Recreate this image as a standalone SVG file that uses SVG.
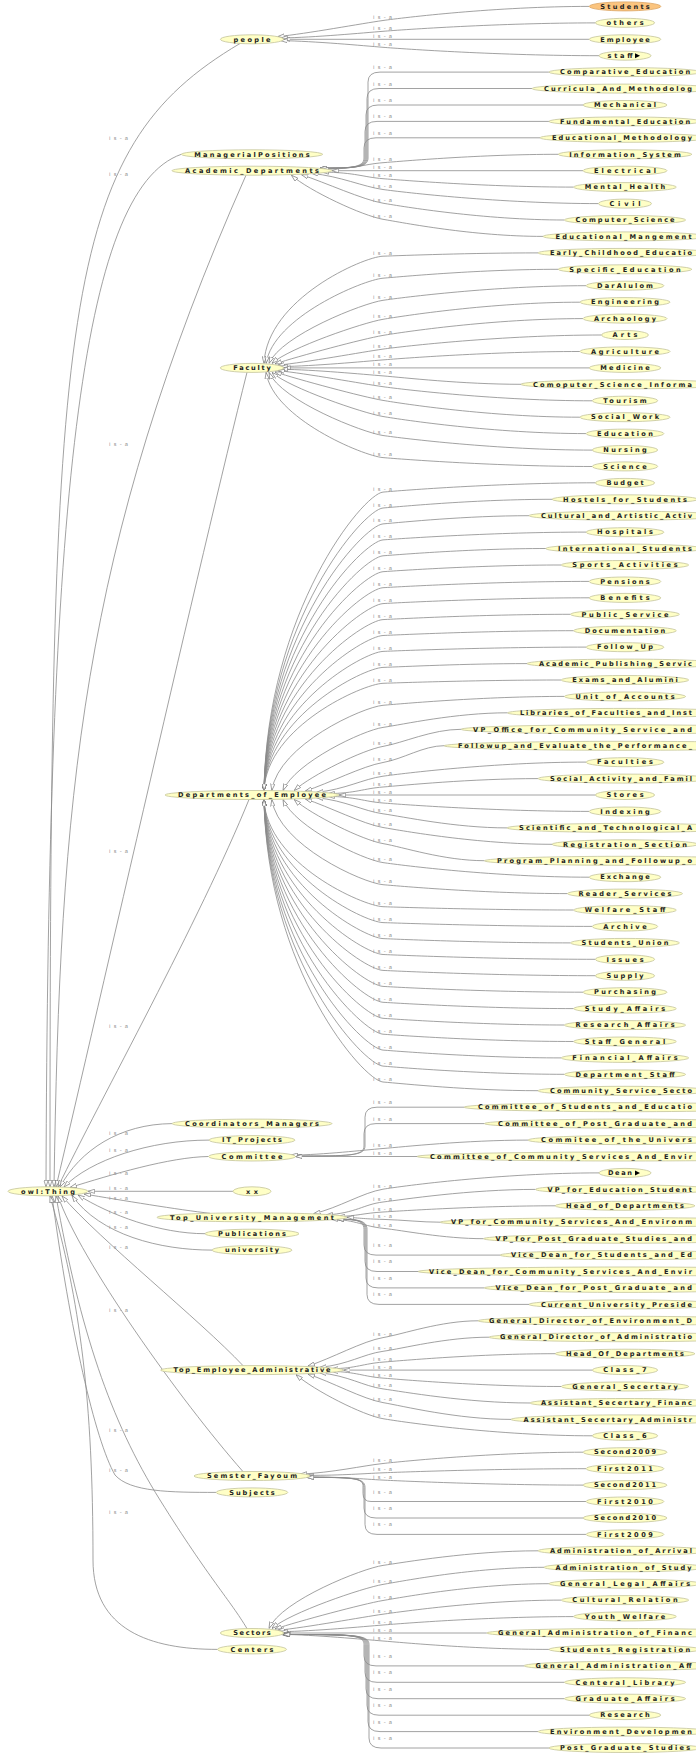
<svg xmlns="http://www.w3.org/2000/svg" width="696" height="1754" viewBox="0 0 696 1754">
<style>
.n ellipse{fill:#ffffc6;stroke:#c4c49c;stroke-width:0.8}
.n text{font-family:"DejaVu Sans",sans-serif;font-size:6.6px;font-weight:bold;fill:#222;text-anchor:middle}
.n text.s{text-anchor:start}
#n-Students ellipse{fill:#fbc47e;stroke:#dca462}
.e path{fill:none;stroke:#8a8a8a;stroke-width:0.8;marker-start:url(#ah)}
.e text{font-family:"DejaVu Sans",sans-serif;font-size:5.3px;fill:#8e8e8e}
</style>
<defs>
<marker id="ah" viewBox="0 0 8 6" refX="8" refY="3" markerWidth="7" markerHeight="5" markerUnits="userSpaceOnUse" orient="auto-start-reverse"><path d="M0,0.5 L8,3 L0,5.5 Z" fill="#fff" stroke="#777" stroke-width="0.8"/></marker>
</defs>
<rect width="696" height="1754" fill="#fff"/>
<g id="connectors" class="e">
<g id="e-root">
<path d="M50,1187 C50,300 60,150 240,43.5"/>
<path d="M46,1187 C48,500 80,190 181.3,154.3"/>
<path d="M54,1187 C60,800 80,550 246,175.2"/>
<path d="M56,1187 C100,1000 200,560 247,372.3"/>
<path d="M58,1187 C100,1100 200,920 249,799.5"/>
<path d="M60,1187 C80,1150 120,1124 172,1123.6"/>
<path d="M64,1187 C90,1160 150,1140 209,1140.1"/>
<path d="M70,1187.5 C110,1175 170,1157 208.5,1156.5"/>
<path d="M88,1191.3 L233,1191.3"/>
<path d="M84,1194 C120,1200 180,1210 210,1213.3"/>
<path d="M78,1195 C110,1215 160,1233.7 205,1233.7"/>
<path d="M72,1195.5 C100,1235 160,1250.1 212,1250.1"/>
<path d="M62,1196 C100,1240 200,1320 243,1365.6"/>
<path d="M58,1196 C80,1260 180,1400 243,1471.6"/>
<path d="M52,1196 C70,1330 95,1440 115,1475 C130,1492 170,1492.4 216.2,1492.4"/>
<path d="M56,1196 C80,1330 110,1420 160,1500 S230,1600 247,1628.6"/>
<path d="M50,1196 C80,1300 93,1400 93,1560 C93,1630 150,1649.4 217.5,1649.4"/>
<g>
<text x="109" y="140" textLength="19">is-a</text>
<text x="109" y="176" textLength="19">is-a</text>
<text x="109" y="446" textLength="19">is-a</text>
<text x="109" y="853" textLength="19">is-a</text>
<text x="109" y="1028" textLength="19">is-a</text>
<text x="109" y="1135" textLength="19">is-a</text>
<text x="109" y="1152" textLength="19">is-a</text>
<text x="109" y="1175" textLength="19">is-a</text>
<text x="109" y="1190" textLength="19">is-a</text>
<text x="109" y="1199.5" textLength="19">is-a</text>
<text x="109" y="1214" textLength="19">is-a</text>
<text x="109" y="1229" textLength="19">is-a</text>
<text x="109" y="1249" textLength="19">is-a</text>
<text x="109" y="1312" textLength="19">is-a</text>
<text x="109" y="1472" textLength="19">is-a</text>
<text x="109" y="1432" textLength="19">is-a</text>
<text x="109" y="1514" textLength="19">is-a</text>
</g>
</g>
<g id="e-people" transform="translate(252,39.3)">
<path d="M25.7,-2.7 C54.6,-5.6 111,-16 131,-18.8 S244.1,-32.9 337.2,-32.9"/>
<path d="M28.7,-1.3 C63.2,-1.9 111,-6.4 131,-8 S247.2,-16.4 343.4,-16.4"/>
<path d="M31.6,0 L337.2,0"/>
<path d="M28.7,1.3 C63.2,1.9 111,6.4 131,8 S249,16.4 347,16.4"/>
<text x="121" y="-20.3" textLength="19">is-a</text>
<text x="121" y="-9.5" textLength="19">is-a</text>
<text x="121" y="-1.5" textLength="19">is-a</text>
<text x="121" y="6.5" textLength="19">is-a</text>
</g>
<g id="e-academic" transform="translate(252,170.7)">
<path d="M68,-2.6 C101,-2.6 116,-2.6 116,-12.6 L116,-88.6 Q116,-98.6 128,-98.6 L296.9,-98.6"/>
<path d="M68,-2.6 C100,-2.6 115,-2.6 115,-12.6 L115,-72.2 Q115,-82.2 127,-82.2 L280,-82.2"/>
<path d="M68,-2.6 C99,-2.6 114,-2.6 114,-12.6 L114,-55.7 Q114,-65.7 126,-65.7 L331,-65.7"/>
<path d="M68,-2.6 C98,-2.6 113,-2.6 113,-12.6 L113,-39.3 Q113,-49.3 125,-49.3 L296.9,-49.3"/>
<path d="M68,-2.6 C97,-2.6 112,-2.6 112,-12.6 L112,-22.9 Q112,-32.9 124,-32.9 L288,-32.9"/>
<path d="M69.9,-1.3 C104.4,-1.9 111,-6.4 131,-8 S228.6,-16.4 306.2,-16.4"/>
<path d="M80,0 L331,0"/>
<path d="M69.9,1.3 C104.4,1.9 111,6.4 131,8 S236.4,16.4 321.7,16.4"/>
<path d="M59.7,2.7 C88.6,5.6 111,16 131,18.8 S248.8,32.9 346.5,32.9"/>
<path d="M49.5,4 C72.9,11.7 111,29.1 131,32.5 S231.7,49.3 312.4,49.3"/>
<path d="M39.4,4.5 C57.3,20.3 111,45.2 131,48.6 S221,65.7 291,65.7"/>
<text x="121" y="-101.6" textLength="19">is-a</text>
<text x="121" y="-85.2" textLength="19">is-a</text>
<text x="121" y="-68.7" textLength="19">is-a</text>
<text x="121" y="-52.3" textLength="19">is-a</text>
<text x="121" y="-35.9" textLength="19">is-a</text>
<text x="121" y="-9.5" textLength="19">is-a</text>
<text x="121" y="-1.5" textLength="19">is-a</text>
<text x="121" y="6.5" textLength="19">is-a</text>
<text x="121" y="17.3" textLength="19">is-a</text>
<text x="121" y="31" textLength="19">is-a</text>
<text x="121" y="47.1" textLength="19">is-a</text>
</g>
<g id="e-faculty" transform="translate(252,367.9)">
<path d="M12,-4.5 C15,-68.8 111,-111 131,-111.7 S218.5,-115 286,-115"/>
<path d="M14.1,-4.5 C21,-50.4 111,-88 131,-89.7 S228.6,-98.6 306.2,-98.6"/>
<path d="M17,-4.5 C29.4,-32.8 111,-64.7 131,-67.6 S242.6,-82.2 334.1,-82.2"/>
<path d="M19.9,-4.5 C37.8,-20.3 111,-45.2 131,-48.6 S239.5,-65.7 327.9,-65.7"/>
<path d="M22.9,-4 C46.3,-11.7 111,-29.1 131,-32.5 S241,-49.3 331,-49.3"/>
<path d="M25.8,-2.7 C54.7,-5.6 111,-16 131,-18.8 S250.3,-32.9 349.6,-32.9"/>
<path d="M28.8,-1.3 C63.3,-1.9 111,-6.4 131,-8 S239.5,-16.4 327.9,-16.4"/>
<path d="M31.7,0 L337.2,0"/>
<path d="M28.8,1.3 C63.3,1.9 111,6.4 131,8 S210,16.4 269,16.4"/>
<path d="M25.8,2.7 C54.7,5.6 111,16 131,18.8 S245.7,32.9 340.3,32.9"/>
<path d="M22.9,4 C46.3,11.7 111,29.1 131,32.5 S239.5,49.3 327.9,49.3"/>
<path d="M19.9,4.5 C37.8,20.3 111,45.2 131,48.6 S242.6,65.7 334.1,65.7"/>
<path d="M17,4.5 C29.4,32.8 111,64.7 131,67.6 S245.7,82.2 340.3,82.2"/>
<path d="M14.1,4.5 C21,50.4 111,88 131,89.7 S245.7,98.6 340.3,98.6"/>
<text x="121" y="-113.2" textLength="19">is-a</text>
<text x="121" y="-91.2" textLength="19">is-a</text>
<text x="121" y="-69.1" textLength="19">is-a</text>
<text x="121" y="-50.1" textLength="19">is-a</text>
<text x="121" y="-34" textLength="19">is-a</text>
<text x="121" y="-20.3" textLength="19">is-a</text>
<text x="121" y="-9.5" textLength="19">is-a</text>
<text x="121" y="-1.5" textLength="19">is-a</text>
<text x="121" y="6.5" textLength="19">is-a</text>
<text x="121" y="17.3" textLength="19">is-a</text>
<text x="121" y="31" textLength="19">is-a</text>
<text x="121" y="47.1" textLength="19">is-a</text>
<text x="121" y="66.1" textLength="19">is-a</text>
<text x="121" y="88.2" textLength="19">is-a</text>
</g>
<g id="e-deptemp" transform="translate(252,795)">
<path d="M12,-4.5 C15,-183.6 111,-301.1 131,-302.9 S247.2,-312.2 343.4,-312.2"/>
<path d="M12,-4.5 C15,-174 111,-285.3 131,-287 S225.5,-295.7 300,-295.7"/>
<path d="M12,-4.5 C15,-164.4 111,-269.4 131,-271.1 S214,-279.3 277,-279.3"/>
<path d="M12,-4.5 C15,-154.9 111,-253.6 131,-255.1 S242.6,-262.9 334.1,-262.9"/>
<path d="M12,-4.5 C15,-145.3 111,-237.7 131,-239.2 S222.4,-246.5 293.8,-246.5"/>
<path d="M12,-4.5 C15,-135.8 111,-221.9 131,-223.3 S230.2,-230 309.3,-230"/>
<path d="M12,-4.5 C15,-126.2 111,-206.1 131,-207.3 S244.1,-213.6 337.2,-213.6"/>
<path d="M12,-4.5 C15,-116.6 111,-190.2 131,-191.4 S244.1,-197.2 337.2,-197.2"/>
<path d="M12,-4.5 C15,-107.1 111,-174.4 131,-175.4 S234.8,-180.7 318.6,-180.7"/>
<path d="M12,-4.5 C15,-97.5 111,-158.6 131,-159.5 S236.4,-164.3 321.7,-164.3"/>
<path d="M12,-4.5 C15,-87.9 111,-142.7 131,-143.6 S242.6,-147.9 334.1,-147.9"/>
<path d="M12,-4.5 C15,-78.4 111,-126.9 131,-127.6 S213,-131.4 275,-131.4"/>
<path d="M12,-4.5 C15,-68.8 111,-111 131,-111.7 S230.2,-115 309.3,-115"/>
<path d="M19.8,-4.5 C26.7,-50.4 111,-88 131,-89.7 S231.7,-98.6 312.4,-98.6"/>
<path d="M31,-4.5 C43.4,-32.8 111,-64.7 131,-67.6 S203.3,-82.2 255.6,-82.2"/>
<path d="M42.2,-4.5 C60.1,-20.3 111,-45.2 131,-48.6 S180,-65.7 209,-65.7"/>
<path d="M53.4,-4 C76.8,-11.7 111,-29.1 131,-32.5 S171.5,-49.3 192,-49.3"/>
<path d="M64.6,-2.7 C93.5,-5.6 111,-16 131,-18.8 S242.6,-32.9 334.1,-32.9"/>
<path d="M75.8,-1.3 C105,-1.9 111,-6.4 131,-8 S218.5,-16.4 286,-16.4"/>
<path d="M87,0 L343.4,0"/>
<path d="M75.8,1.3 C105,1.9 111,6.4 131,8 S244.1,16.4 337.2,16.4"/>
<path d="M64.6,2.7 C93.5,5.6 111,16 131,18.8 S203,32.9 255,32.9"/>
<path d="M53.4,4 C76.8,11.7 111,29.1 131,32.5 S225.5,49.3 300,49.3"/>
<path d="M42.2,4.5 C60.1,20.3 111,45.2 131,48.6 S191.7,65.7 232.4,65.7"/>
<path d="M31,4.5 C43.4,32.8 111,64.7 131,67.6 S244.1,82.2 337.2,82.2"/>
<path d="M19.8,4.5 C26.7,50.4 111,88 131,89.7 S233.3,98.6 315.5,98.6"/>
<path d="M12,4.5 C15,68.8 111,111 131,111.7 S236.4,115 321.7,115"/>
<path d="M12,4.5 C15,78.4 111,126.9 131,127.6 S245.7,131.4 340.3,131.4"/>
<path d="M12,4.5 C15,87.9 111,142.7 131,143.6 S234.8,147.9 318.6,147.9"/>
<path d="M12,4.5 C15,97.5 111,158.6 131,159.5 S247.2,164.3 343.4,164.3"/>
<path d="M12,4.5 C15,107.1 111,174.4 131,175.4 S247.2,180.7 343.4,180.7"/>
<path d="M12,4.5 C15,116.6 111,190.2 131,191.4 S241,197.2 331,197.2"/>
<path d="M12,4.5 C15,126.2 111,206.1 131,207.3 S236.4,213.6 321.7,213.6"/>
<path d="M12,4.5 C15,135.8 111,221.9 131,223.3 S231.7,230 312.4,230"/>
<path d="M12,4.5 C15,145.3 111,237.7 131,239.2 S236.4,246.5 321.7,246.5"/>
<path d="M12,4.5 C15,154.9 111,253.6 131,255.1 S230.2,262.9 309.3,262.9"/>
<path d="M12,4.5 C15,164.4 111,269.4 131,271.1 S231.7,279.3 312.4,279.3"/>
<path d="M12,4.5 C15,174 111,285.3 131,287 S218.5,295.7 286,295.7"/>
<text x="121" y="-304.4" textLength="19">is-a</text>
<text x="121" y="-288.5" textLength="19">is-a</text>
<text x="121" y="-272.6" textLength="19">is-a</text>
<text x="121" y="-256.6" textLength="19">is-a</text>
<text x="121" y="-240.7" textLength="19">is-a</text>
<text x="121" y="-224.8" textLength="19">is-a</text>
<text x="121" y="-208.8" textLength="19">is-a</text>
<text x="121" y="-192.9" textLength="19">is-a</text>
<text x="121" y="-176.9" textLength="19">is-a</text>
<text x="121" y="-161" textLength="19">is-a</text>
<text x="121" y="-145.1" textLength="19">is-a</text>
<text x="121" y="-129.1" textLength="19">is-a</text>
<text x="121" y="-113.2" textLength="19">is-a</text>
<text x="121" y="-91.2" textLength="19">is-a</text>
<text x="121" y="-69.1" textLength="19">is-a</text>
<text x="121" y="-50.1" textLength="19">is-a</text>
<text x="121" y="-34" textLength="19">is-a</text>
<text x="121" y="-20.3" textLength="19">is-a</text>
<text x="121" y="-9.5" textLength="19">is-a</text>
<text x="121" y="-1.5" textLength="19">is-a</text>
<text x="121" y="6.5" textLength="19">is-a</text>
<text x="121" y="17.3" textLength="19">is-a</text>
<text x="121" y="31" textLength="19">is-a</text>
<text x="121" y="47.1" textLength="19">is-a</text>
<text x="121" y="66.1" textLength="19">is-a</text>
<text x="121" y="88.2" textLength="19">is-a</text>
<text x="121" y="110.2" textLength="19">is-a</text>
<text x="121" y="126.1" textLength="19">is-a</text>
<text x="121" y="142.1" textLength="19">is-a</text>
<text x="121" y="158" textLength="19">is-a</text>
<text x="121" y="173.9" textLength="19">is-a</text>
<text x="121" y="189.9" textLength="19">is-a</text>
<text x="121" y="205.8" textLength="19">is-a</text>
<text x="121" y="221.8" textLength="19">is-a</text>
<text x="121" y="237.7" textLength="19">is-a</text>
<text x="121" y="253.6" textLength="19">is-a</text>
<text x="121" y="269.6" textLength="19">is-a</text>
<text x="121" y="285.5" textLength="19">is-a</text>
</g>
<g id="e-committee" transform="translate(252,1156.5)">
<path d="M43.5,-0.5 C98,-0.5 113,-0.5 113,-10.5 L113,-39.3 Q113,-49.3 125,-49.3 L212,-49.3"/>
<path d="M43.5,-0.5 C97,-0.5 112,-0.5 112,-10.5 L112,-22.9 Q112,-32.9 124,-32.9 L232.4,-32.9"/>
<path d="M38.8,-1.3 C73.3,-1.9 111,-6.4 131,-8 S213.5,-16.4 276,-16.4"/>
<path d="M43.5,0 L165,0"/>
<text x="121" y="-52.3" textLength="19">is-a</text>
<text x="121" y="-35.9" textLength="19">is-a</text>
<text x="121" y="-9.5" textLength="19">is-a</text>
<text x="121" y="-1.5" textLength="19">is-a</text>
</g>
<g id="e-topuni" transform="translate(252,1217.3)">
<path d="M61.6,-3.6 C86.7,-9.5 111,-24.8 131,-28.1 S249,-44.4 347,-44.4"/>
<path d="M73.9,-2.3 C104.5,-4.3 111,-12.8 131,-15.3 S217.3,-27.9 283.6,-27.9"/>
<path d="M86.3,-0.9 C105,-1.2 111,-4.1 131,-5.3 S227,-11.5 303.1,-11.5"/>
<path d="M95,0 C105,0.4 111,1.6 131,2.1 S169.5,4.9 188,4.9"/>
<path d="M78.9,1.8 C105,2.8 111,8.9 131,11 S191.3,21.4 231.6,21.4"/>
<path d="M85,2 C100,2 112,2 112,12 L112,27.8 Q112,37.8 124,37.8 L248,37.8"/>
<path d="M85,2 C101,2 113,2 113,12 L113,44.2 Q113,54.2 125,54.2 L166,54.2"/>
<path d="M85,2 C102,2 114,2 114,12 L114,60.6 Q114,70.6 126,70.6 L232.4,70.6"/>
<path d="M85,2 C103,2 115,2 115,12 L115,77.1 Q115,87.1 127,87.1 L277,87.1"/>
<text x="121" y="-29.6" textLength="19">is-a</text>
<text x="121" y="-16.8" textLength="19">is-a</text>
<text x="121" y="-6.8" textLength="19">is-a</text>
<text x="121" y="0.6" textLength="19">is-a</text>
<text x="121" y="9.5" textLength="19">is-a</text>
<text x="121" y="29.8" textLength="19">is-a</text>
<text x="121" y="46.2" textLength="19">is-a</text>
<text x="121" y="62.6" textLength="19">is-a</text>
<text x="121" y="79.1" textLength="19">is-a</text>
</g>
<g id="e-topemp" transform="translate(252,1370.1)">
<path d="M55.9,-4 C79.3,-11.7 111,-29.1 131,-32.5 S188.5,-49.3 226,-49.3"/>
<path d="M67.7,-2.7 C96.6,-5.6 111,-16 131,-18.8 S194,-32.9 237,-32.9"/>
<path d="M79.7,-1.3 C105,-1.9 111,-6.4 131,-8 S227,-16.4 303.1,-16.4"/>
<path d="M91.5,0 L340.3,0"/>
<path d="M79.7,1.3 C105,1.9 111,6.4 131,8 S230.2,16.4 309.3,16.4"/>
<path d="M67.7,2.7 C96.6,5.6 111,16 131,18.8 S214.5,32.9 278,32.9"/>
<path d="M55.9,4 C79.3,11.7 111,29.1 131,32.5 S205,49.3 259,49.3"/>
<path d="M44,4.5 C61.9,20.3 111,45.2 131,48.6 S245.7,65.7 340.3,65.7"/>
<text x="121" y="-34" textLength="19">is-a</text>
<text x="121" y="-20.3" textLength="19">is-a</text>
<text x="121" y="-9.5" textLength="19">is-a</text>
<text x="121" y="-1.5" textLength="19">is-a</text>
<text x="121" y="6.5" textLength="19">is-a</text>
<text x="121" y="17.3" textLength="19">is-a</text>
<text x="121" y="31" textLength="19">is-a</text>
<text x="121" y="47.1" textLength="19">is-a</text>
</g>
<g id="e-semster" transform="translate(252,1476)">
<path d="M48.1,-1.9 C80.1,-3.3 111,-10.3 131,-12.5 S241,-23.8 331,-23.8"/>
<path d="M54.9,-0.6 C92.4,-0.7 111,-2.4 131,-3.2 S242.6,-7.3 334.1,-7.3"/>
<path d="M54.2,0.8 C91.1,0.9 111,3.1 131,4.1 S241,9.1 331,9.1"/>
<path d="M55,1.4 C98,1.4 111,1.4 111,9.4 L111,17.5 Q111,25.5 119,25.5 L334.1,25.5"/>
<path d="M55,1.4 C99,1.4 112,1.4 112,11.4 L112,32 Q112,42 124,42 L331,42"/>
<path d="M55,1.4 C100,1.4 113,1.4 113,11.4 L113,48.4 Q113,58.4 125,58.4 L334.1,58.4"/>
<text x="121" y="-14" textLength="19">is-a</text>
<text x="121" y="-4.7" textLength="19">is-a</text>
<text x="121" y="2.6" textLength="19">is-a</text>
<text x="121" y="17.5" textLength="19">is-a</text>
<text x="121" y="34" textLength="19">is-a</text>
<text x="121" y="50.4" textLength="19">is-a</text>
</g>
<g id="e-sectors" transform="translate(252,1633)">
<path d="M17,-4.5 C29.4,-32.8 111,-64.7 131,-67.6 S218.5,-82.2 286,-82.2"/>
<path d="M19.9,-4.5 C37.8,-20.3 111,-45.2 131,-48.6 S221.5,-65.7 292,-65.7"/>
<path d="M22.9,-4 C46.3,-11.7 111,-29.1 131,-32.5 S224,-49.3 296.9,-49.3"/>
<path d="M25.8,-2.7 C54.7,-5.6 111,-16 131,-18.8 S230.2,-32.9 309.3,-32.9"/>
<path d="M28.8,-1.3 C63.3,-1.9 111,-6.4 131,-8 S236.4,-16.4 321.7,-16.4"/>
<path d="M31.7,0 L234.7,0"/>
<path d="M28.8,1.3 C63.3,1.9 111,6.4 131,8 S224,16.4 296.9,16.4"/>
<path d="M31,1.5 C97,1.5 112,1.5 112,11.5 L112,22.9 Q112,32.9 124,32.9 L272,32.9"/>
<path d="M31,1.5 C98,1.5 113,1.5 113,11.5 L113,39.3 Q113,49.3 125,49.3 L312.4,49.3"/>
<path d="M31,1.5 C99,1.5 114,1.5 114,11.5 L114,55.7 Q114,65.7 126,65.7 L312.4,65.7"/>
<path d="M31,1.5 C100,1.5 115,1.5 115,11.5 L115,72.2 Q115,82.2 127,82.2 L337.2,82.2"/>
<path d="M31,1.5 C101,1.5 116,1.5 116,11.5 L116,88.6 Q116,98.6 128,98.6 L286,98.6"/>
<path d="M31,1.5 C102,1.5 117,1.5 117,11.5 L117,105 Q117,115 129,115 L296.9,115"/>
<text x="121" y="-69.1" textLength="19">is-a</text>
<text x="121" y="-50.1" textLength="19">is-a</text>
<text x="121" y="-34" textLength="19">is-a</text>
<text x="121" y="-20.3" textLength="19">is-a</text>
<text x="121" y="-9.5" textLength="19">is-a</text>
<text x="121" y="-1.5" textLength="19">is-a</text>
<text x="121" y="6.5" textLength="19">is-a</text>
<text x="121" y="24.9" textLength="19">is-a</text>
<text x="121" y="41.3" textLength="19">is-a</text>
<text x="121" y="57.7" textLength="19">is-a</text>
<text x="121" y="74.2" textLength="19">is-a</text>
<text x="121" y="90.6" textLength="19">is-a</text>
<text x="121" y="107" textLength="19">is-a</text>
</g>
</g>
<g id="nodes">
<g id="n-owlThing" class="n" transform="translate(48,1191.3)"><ellipse rx="40" ry="4.5"/><text y="2.2" textLength="54">owl:Thing</text></g>
<g id="n-people" class="n" transform="translate(252,39.3)"><ellipse rx="31.6" ry="4.5"/><text y="2.2" textLength="37.2">people</text></g>
<g id="n-ManagerialPositions" class="n" transform="translate(252,154.3)"><ellipse rx="70.7" ry="4.5"/><text y="2.2" textLength="115.4">ManagerialPositions</text></g>
<g id="n-Academic_Departments" class="n" transform="translate(252,170.7)"><ellipse rx="80" ry="4.5"/><text y="2.2" textLength="134">Academic_Departments</text></g>
<g id="n-Faculty" class="n" transform="translate(252,367.9)"><ellipse rx="31.7" ry="4.5"/><text y="2.2" textLength="37.4">Faculty</text></g>
<g id="n-Departments_of_Employee" class="n" transform="translate(252,795)"><ellipse rx="87" ry="4.5"/><text y="2.2" textLength="148">Departments_of_Employee</text></g>
<g id="n-Coordinators_Managers" class="n" transform="translate(252,1123.6)"><ellipse rx="80" ry="4.5"/><text y="2.2" textLength="134">Coordinators_Managers</text></g>
<g id="n-IT_Projects" class="n" transform="translate(252,1140.1)"><ellipse rx="43" ry="4.5"/><text y="2.2" textLength="60">IT_Projects</text></g>
<g id="n-Committee" class="n" transform="translate(252,1156.5)"><ellipse rx="43.5" ry="4.5"/><text y="2.2" textLength="61">Committee</text></g>
<g id="n-xx" class="n" transform="translate(252,1191.3)"><ellipse rx="19" ry="4.5"/><text y="2.2" textLength="12">xx</text></g>
<g id="n-Top_University_Management" class="n" transform="translate(252,1217.3)"><ellipse rx="95" ry="4.5"/><text y="2.2" textLength="164">Top_University_Management</text></g>
<g id="n-Publications" class="n" transform="translate(252,1233.7)"><ellipse rx="47" ry="4.5"/><text y="2.2" textLength="68">Publications</text></g>
<g id="n-university" class="n" transform="translate(252,1250.1)"><ellipse rx="40" ry="4.5"/><text y="2.2" textLength="54">university</text></g>
<g id="n-Top_Employee_Administrative" class="n" transform="translate(252,1370.1)"><ellipse rx="91.5" ry="4.5"/><text y="2.2" textLength="157">Top_Employee_Administrative</text></g>
<g id="n-Semster_Fayoum" class="n" transform="translate(252,1476)"><ellipse rx="58" ry="4.5"/><text y="2.2" textLength="90">Semster_Fayoum</text></g>
<g id="n-Subjects" class="n" transform="translate(252,1492.4)"><ellipse rx="35.8" ry="4.5"/><text y="2.2" textLength="45.6">Subjects</text></g>
<g id="n-Sectors" class="n" transform="translate(252,1633)"><ellipse rx="31.7" ry="4.5"/><text y="2.2" textLength="37.4">Sectors</text></g>
<g id="n-Centers" class="n" transform="translate(252,1649.4)"><ellipse rx="34.5" ry="4.5"/><text y="2.2" textLength="43">Centers</text></g>

<g id="n-Students" class="n" transform="translate(625,6.4)"><ellipse rx="35.8" ry="4.5"/><text y="2.2" textLength="49.6">Students</text></g>
<g id="n-others" class="n" transform="translate(625,22.8)"><ellipse rx="29.6" ry="4.5"/><text y="2.2" textLength="37.2">others</text></g>
<g id="n-Employee" class="n" transform="translate(625,39.3)"><ellipse rx="35.8" ry="4.5"/><text y="2.2" textLength="49.6">Employee</text></g>
<g id="n-staff" class="n" transform="translate(625,55.7)"><ellipse rx="26" ry="4.5"/><text x="-5" y="2.2" textLength="25">staff</text><polygon points="10,-2.5 15,0 10,2.5" fill="#000"/></g>
<g id="n-Comparative_Education" class="n" transform="translate(625,72.1)"><ellipse rx="76.1" ry="4.5"/><text y="2.2" textLength="130.2">Comparative_Education</text></g>
<g id="n-Curricula_And_Methodology" class="n" transform="translate(625,88.6)"><ellipse rx="93" ry="4.5"/><text class="s" x="-81" y="2.2" textLength="148">Curricula_And_Methodolog</text></g>
<g id="n-Mechanical" class="n" transform="translate(625,105)"><ellipse rx="42" ry="4.5"/><text y="2.2" textLength="62">Mechanical</text></g>
<g id="n-Fundamental_Education" class="n" transform="translate(625,121.4)"><ellipse rx="76.1" ry="4.5"/><text y="2.2" textLength="130.2">Fundamental_Education</text></g>
<g id="n-Educational_Methodology" class="n" transform="translate(625,137.8)"><ellipse rx="85" ry="4.5"/><text class="s" x="-73" y="2.2" textLength="140">Educational_Methodology</text></g>
<g id="n-Information_System" class="n" transform="translate(625,154.3)"><ellipse rx="66.8" ry="4.5"/><text y="2.2" textLength="111.6">Information_System</text></g>
<g id="n-Electrical" class="n" transform="translate(625,170.7)"><ellipse rx="42" ry="4.5"/><text y="2.2" textLength="62">Electrical</text></g>
<g id="n-Mental_Health" class="n" transform="translate(625,187.1)"><ellipse rx="51.3" ry="4.5"/><text y="2.2" textLength="80.6">Mental_Health</text></g>
<g id="n-Civil" class="n" transform="translate(625,203.6)"><ellipse rx="26.5" ry="4.5"/><text y="2.2" textLength="31">Civil</text></g>
<g id="n-Computer_Science" class="n" transform="translate(625,220)"><ellipse rx="60.6" ry="4.5"/><text y="2.2" textLength="99.2">Computer_Science</text></g>
<g id="n-Educational_Mangement" class="n" transform="translate(625,236.4)"><ellipse rx="82" ry="4.5"/><text class="s" x="-69.4" y="2.2" textLength="136">Educational_Mangement</text></g>
<g id="n-Early_Childhood_Education" class="n" transform="translate(625,252.9)"><ellipse rx="87" ry="4.5"/><text class="s" x="-75" y="2.2" textLength="142">Early_Childhood_Educatio</text></g>
<g id="n-Specific_Education" class="n" transform="translate(625,269.3)"><ellipse rx="66.8" ry="4.5"/><text y="2.2" textLength="111.6">Specific_Education</text></g>
<g id="n-DarAlulom" class="n" transform="translate(625,285.7)"><ellipse rx="38.9" ry="4.5"/><text y="2.2" textLength="55.8">DarAlulom</text></g>
<g id="n-Engineering" class="n" transform="translate(625,302.1)"><ellipse rx="45.1" ry="4.5"/><text y="2.2" textLength="68.2">Engineering</text></g>
<g id="n-Archaology" class="n" transform="translate(625,318.6)"><ellipse rx="42" ry="4.5"/><text y="2.2" textLength="62">Archaology</text></g>
<g id="n-Arts" class="n" transform="translate(625,335)"><ellipse rx="23.4" ry="4.5"/><text y="2.2" textLength="24.8">Arts</text></g>
<g id="n-Agriculture" class="n" transform="translate(625,351.4)"><ellipse rx="45.1" ry="4.5"/><text y="2.2" textLength="68.2">Agriculture</text></g>
<g id="n-Medicine" class="n" transform="translate(625,367.9)"><ellipse rx="35.8" ry="4.5"/><text y="2.2" textLength="49.6">Medicine</text></g>
<g id="n-Comoputer_Science_Information" class="n" transform="translate(625,384.3)"><ellipse rx="104" ry="4.5"/><text class="s" x="-92" y="2.2" textLength="159">Comoputer_Science_Informa</text></g>
<g id="n-Tourism" class="n" transform="translate(625,400.7)"><ellipse rx="32.7" ry="4.5"/><text y="2.2" textLength="43.4">Tourism</text></g>
<g id="n-Social_Work" class="n" transform="translate(625,417.2)"><ellipse rx="45.1" ry="4.5"/><text y="2.2" textLength="68.2">Social_Work</text></g>
<g id="n-Education" class="n" transform="translate(625,433.6)"><ellipse rx="38.9" ry="4.5"/><text y="2.2" textLength="55.8">Education</text></g>
<g id="n-Nursing" class="n" transform="translate(625,450)"><ellipse rx="32.7" ry="4.5"/><text y="2.2" textLength="43.4">Nursing</text></g>
<g id="n-Science" class="n" transform="translate(625,466.4)"><ellipse rx="32.7" ry="4.5"/><text y="2.2" textLength="43.4">Science</text></g>
<g id="n-Budget" class="n" transform="translate(625,482.9)"><ellipse rx="29.6" ry="4.5"/><text y="2.2" textLength="37.2">Budget</text></g>
<g id="n-Hostels_for_Students" class="n" transform="translate(625,499.3)"><ellipse rx="73" ry="4.5"/><text y="2.2" textLength="124">Hostels_for_Students</text></g>
<g id="n-Cultural_and_Artistic_Activities" class="n" transform="translate(625,515.7)"><ellipse rx="96" ry="4.5"/><text class="s" x="-84" y="2.2" textLength="151">Cultural_and_Artistic_Activ</text></g>
<g id="n-Hospitals" class="n" transform="translate(625,532.2)"><ellipse rx="38.9" ry="4.5"/><text y="2.2" textLength="55.8">Hospitals</text></g>
<g id="n-International_Students" class="n" transform="translate(625,548.6)"><ellipse rx="79.2" ry="4.5"/><text y="2.2" textLength="134">International_Students</text></g>
<g id="n-Sports_Activities" class="n" transform="translate(625,565)"><ellipse rx="63.7" ry="4.5"/><text y="2.2" textLength="105.4">Sports_Activities</text></g>
<g id="n-Pensions" class="n" transform="translate(625,581.5)"><ellipse rx="35.8" ry="4.5"/><text y="2.2" textLength="49.6">Pensions</text></g>
<g id="n-Benefits" class="n" transform="translate(625,597.9)"><ellipse rx="35.8" ry="4.5"/><text y="2.2" textLength="49.6">Benefits</text></g>
<g id="n-Public_Service" class="n" transform="translate(625,614.3)"><ellipse rx="54.4" ry="4.5"/><text y="2.2" textLength="86.8">Public_Service</text></g>
<g id="n-Documentation" class="n" transform="translate(625,630.7)"><ellipse rx="51.3" ry="4.5"/><text y="2.2" textLength="80.6">Documentation</text></g>
<g id="n-Follow_Up" class="n" transform="translate(625,647.2)"><ellipse rx="38.9" ry="4.5"/><text y="2.2" textLength="55.8">Follow_Up</text></g>
<g id="n-Academic_Publishing_Services" class="n" transform="translate(625,663.6)"><ellipse rx="98" ry="4.5"/><text class="s" x="-86" y="2.2" textLength="153">Academic_Publishing_Servic</text></g>
<g id="n-Exams_and_Alumini" class="n" transform="translate(625,680)"><ellipse rx="63.7" ry="4.5"/><text y="2.2" textLength="105.4">Exams_and_Alumini</text></g>
<g id="n-Unit_of_Accounts" class="n" transform="translate(625,696.5)"><ellipse rx="60.6" ry="4.5"/><text y="2.2" textLength="99.2">Unit_of_Accounts</text></g>
<g id="n-Libraries_of_Faculties" class="n" transform="translate(625,712.9)"><ellipse rx="117.4" ry="4.5"/><text class="s" x="-105" y="2.2" textLength="172">Libraries_of_Faculties_and_Inst</text></g>
<g id="n-VP_Office_for_Community" class="n" transform="translate(625,729.3)"><ellipse rx="164" ry="4.5"/><text class="s" x="-152" y="2.2" textLength="219">VP_Office_for_Community_Service_and</text></g>
<g id="n-Followup_and_Evaluate" class="n" transform="translate(625,745.8)"><ellipse rx="181" ry="4.5"/><text class="s" x="-167" y="2.2" textLength="234">Followup_and_Evaluate_the_Performance_</text></g>
<g id="n-Faculties" class="n" transform="translate(625,762.2)"><ellipse rx="38.9" ry="4.5"/><text y="2.2" textLength="55.8">Faculties</text></g>
<g id="n-Social_Activity_and_Family" class="n" transform="translate(625,778.6)"><ellipse rx="87" ry="4.5"/><text class="s" x="-75" y="2.2" textLength="142">Social_Activity_and_Famil</text></g>
<g id="n-Stores" class="n" transform="translate(625,795)"><ellipse rx="29.6" ry="4.5"/><text y="2.2" textLength="37.2">Stores</text></g>
<g id="n-Indexing" class="n" transform="translate(625,811.5)"><ellipse rx="35.8" ry="4.5"/><text y="2.2" textLength="49.6">Indexing</text></g>
<g id="n-Scientific_and_Technological" class="n" transform="translate(625,827.9)"><ellipse rx="118" ry="4.5"/><text class="s" x="-106" y="2.2" textLength="173">Scientific_and_Technological_A</text></g>
<g id="n-Registration_Section" class="n" transform="translate(625,844.3)"><ellipse rx="73" ry="4.5"/><text y="2.2" textLength="124">Registration_Section</text></g>
<g id="n-Program_Planning" class="n" transform="translate(625,860.8)"><ellipse rx="140.6" ry="4.5"/><text class="s" x="-128" y="2.2" textLength="195">Program_Planning_and_Followup_o</text></g>
<g id="n-Exchange" class="n" transform="translate(625,877.2)"><ellipse rx="35.8" ry="4.5"/><text y="2.2" textLength="49.6">Exchange</text></g>
<g id="n-Reader_Services" class="n" transform="translate(625,893.6)"><ellipse rx="57.5" ry="4.5"/><text y="2.2" textLength="93">Reader_Services</text></g>
<g id="n-Welfare_Staff" class="n" transform="translate(625,910.1)"><ellipse rx="51.3" ry="4.5"/><text y="2.2" textLength="80.6">Welfare_Staff</text></g>
<g id="n-Archive" class="n" transform="translate(625,926.5)"><ellipse rx="32.7" ry="4.5"/><text y="2.2" textLength="43.4">Archive</text></g>
<g id="n-Students_Union" class="n" transform="translate(625,942.9)"><ellipse rx="54.4" ry="4.5"/><text y="2.2" textLength="86.8">Students_Union</text></g>
<g id="n-Issues" class="n" transform="translate(625,959.3)"><ellipse rx="29.6" ry="4.5"/><text y="2.2" textLength="37.2">Issues</text></g>
<g id="n-Supply" class="n" transform="translate(625,975.8)"><ellipse rx="29.6" ry="4.5"/><text y="2.2" textLength="37.2">Supply</text></g>
<g id="n-Purchasing" class="n" transform="translate(625,992.2)"><ellipse rx="42" ry="4.5"/><text y="2.2" textLength="62">Purchasing</text></g>
<g id="n-Study_Affairs" class="n" transform="translate(625,1008.6)"><ellipse rx="51.3" ry="4.5"/><text y="2.2" textLength="80.6">Study_Affairs</text></g>
<g id="n-Research_Affairs" class="n" transform="translate(625,1025.1)"><ellipse rx="60.6" ry="4.5"/><text y="2.2" textLength="99.2">Research_Affairs</text></g>
<g id="n-Staff_General" class="n" transform="translate(625,1041.5)"><ellipse rx="51.3" ry="4.5"/><text y="2.2" textLength="80.6">Staff_General</text></g>
<g id="n-Financial_Affairs" class="n" transform="translate(625,1057.9)"><ellipse rx="63.7" ry="4.5"/><text y="2.2" textLength="105.4">Financial_Affairs</text></g>
<g id="n-Department_Staff" class="n" transform="translate(625,1074.4)"><ellipse rx="60.6" ry="4.5"/><text y="2.2" textLength="99.2">Department_Staff</text></g>
<g id="n-Community_Service_Sector" class="n" transform="translate(625,1090.8)"><ellipse rx="87" ry="4.5"/><text class="s" x="-75" y="2.2" textLength="142">Community_Service_Secto</text></g>
<g id="n-Committee_of_Students" class="n" transform="translate(625,1107.2)"><ellipse rx="161" ry="4.5"/><text class="s" x="-147" y="2.2" textLength="214">Committee_of_Students_and_Educatio</text></g>
<g id="n-Committee_of_Post_Graduate" class="n" transform="translate(625,1123.6)"><ellipse rx="140.6" ry="4.5"/><text class="s" x="-127" y="2.2" textLength="194">Committee_of_Post_Graduate_and</text></g>
<g id="n-Commitee_of_the_University" class="n" transform="translate(625,1140.1)"><ellipse rx="97" ry="4.5"/><text class="s" x="-84" y="2.2" textLength="151">Commitee_of_the_Univers</text></g>
<g id="n-Committee_of_Community" class="n" transform="translate(625,1156.5)"><ellipse rx="208" ry="4.5"/><text class="s" x="-195" y="2.2" textLength="262">Committee_of_Community_Services_And_Envir</text></g>
<g id="n-Dean" class="n" transform="translate(625,1172.9)"><ellipse rx="26" ry="4.5"/><text x="-5" y="2.2" textLength="24">Dean</text><polygon points="10,-2.5 15,0 10,2.5" fill="#000"/></g>
<g id="n-VP_for_Education_Students" class="n" transform="translate(625,1189.4)"><ellipse rx="89.4" ry="4.5"/><text class="s" x="-77.4" y="2.2" textLength="144.4">VP_for_Education_Student</text></g>
<g id="n-Head_of_Departments" class="n" transform="translate(625,1205.8)"><ellipse rx="69.9" ry="4.5"/><text y="2.2" textLength="117.8">Head_of_Departments</text></g>
<g id="n-VP_for_Community_Services" class="n" transform="translate(625,1222.2)"><ellipse rx="185" ry="4.5"/><text class="s" x="-174" y="2.2" textLength="241">VP_for_Community_Services_And_Environm</text></g>
<g id="n-VP_for_Post_Graduate" class="n" transform="translate(625,1238.7)"><ellipse rx="141.4" ry="4.5"/><text class="s" x="-129.4" y="2.2" textLength="196.4">VP_for_Post_Graduate_Studies_and</text></g>
<g id="n-Vice_Dean_for_Students" class="n" transform="translate(625,1255.1)"><ellipse rx="125" ry="4.5"/><text class="s" x="-114" y="2.2" textLength="181">Vice_Dean_for_Students_and_Ed</text></g>
<g id="n-Vice_Dean_for_Community" class="n" transform="translate(625,1271.5)"><ellipse rx="207" ry="4.5"/><text class="s" x="-196" y="2.2" textLength="263">Vice_Dean_for_Community_Services_And_Envir</text></g>
<g id="n-Vice_Dean_for_Post_Graduate" class="n" transform="translate(625,1287.9)"><ellipse rx="140.6" ry="4.5"/><text class="s" x="-129.4" y="2.2" textLength="196.4">Vice_Dean_for_Post_Graduate_and</text></g>
<g id="n-Current_University_President" class="n" transform="translate(625,1304.4)"><ellipse rx="96" ry="4.5"/><text class="s" x="-84" y="2.2" textLength="151">Current_University_Preside</text></g>
<g id="n-General_Director_of_Environment" class="n" transform="translate(625,1320.8)"><ellipse rx="147" ry="4.5"/><text class="s" x="-136" y="2.2" textLength="203">General_Director_of_Environment_D</text></g>
<g id="n-General_Director_of_Administration" class="n" transform="translate(625,1337.2)"><ellipse rx="136" ry="4.5"/><text class="s" x="-125" y="2.2" textLength="192">General_Director_of_Administratio</text></g>
<g id="n-Head_Of_Departments" class="n" transform="translate(625,1353.7)"><ellipse rx="69.9" ry="4.5"/><text y="2.2" textLength="117.8">Head_Of_Departments</text></g>
<g id="n-Class_7" class="n" transform="translate(625,1370.1)"><ellipse rx="32.7" ry="4.5"/><text y="2.2" textLength="43.4">Class_7</text></g>
<g id="n-General_Secertary" class="n" transform="translate(625,1386.5)"><ellipse rx="63.7" ry="4.5"/><text y="2.2" textLength="105.4">General_Secertary</text></g>
<g id="n-Assistant_Secertary_Financial" class="n" transform="translate(625,1403)"><ellipse rx="95" ry="4.5"/><text class="s" x="-84" y="2.2" textLength="151">Assistant_Secertary_Financ</text></g>
<g id="n-Assistant_Secertary_Administrative" class="n" transform="translate(625,1419.4)"><ellipse rx="114" ry="4.5"/><text class="s" x="-101.4" y="2.2" textLength="168.4">Assistant_Secertary_Administr</text></g>
<g id="n-Class_6" class="n" transform="translate(625,1435.8)"><ellipse rx="32.7" ry="4.5"/><text y="2.2" textLength="43.4">Class_6</text></g>
<g id="n-Second2009" class="n" transform="translate(625,1452.2)"><ellipse rx="42" ry="4.5"/><text y="2.2" textLength="62">Second2009</text></g>
<g id="n-First2011" class="n" transform="translate(625,1468.7)"><ellipse rx="38.9" ry="4.5"/><text y="2.2" textLength="55.8">First2011</text></g>
<g id="n-Second2011" class="n" transform="translate(625,1485.1)"><ellipse rx="42" ry="4.5"/><text y="2.2" textLength="62">Second2011</text></g>
<g id="n-First2010" class="n" transform="translate(625,1501.5)"><ellipse rx="38.9" ry="4.5"/><text y="2.2" textLength="55.8">First2010</text></g>
<g id="n-Second2010" class="n" transform="translate(625,1518)"><ellipse rx="42" ry="4.5"/><text y="2.2" textLength="62">Second2010</text></g>
<g id="n-First2009" class="n" transform="translate(625,1534.4)"><ellipse rx="38.9" ry="4.5"/><text y="2.2" textLength="55.8">First2009</text></g>
<g id="n-Administration_of_Arrival" class="n" transform="translate(625,1550.8)"><ellipse rx="87" ry="4.5"/><text class="s" x="-75" y="2.2" textLength="142">Administration_of_Arrival</text></g>
<g id="n-Administration_of_Study" class="n" transform="translate(625,1567.3)"><ellipse rx="81" ry="4.5"/><text class="s" x="-69.4" y="2.2" textLength="136">Administration_of_Study</text></g>
<g id="n-General_Legal_Affairs" class="n" transform="translate(625,1583.7)"><ellipse rx="76.1" ry="4.5"/><text y="2.2" textLength="130.2">General_Legal_Affairs</text></g>
<g id="n-Cultural_Relation" class="n" transform="translate(625,1600.1)"><ellipse rx="63.7" ry="4.5"/><text y="2.2" textLength="105.4">Cultural_Relation</text></g>
<g id="n-Youth_Welfare" class="n" transform="translate(625,1616.5)"><ellipse rx="51.3" ry="4.5"/><text y="2.2" textLength="80.6">Youth_Welfare</text></g>
<g id="n-General_Administration_of_Finance" class="n" transform="translate(625,1633)"><ellipse rx="138.3" ry="4.5"/><text class="s" x="-127" y="2.2" textLength="194">General_Administration_of_Financ</text></g>
<g id="n-Students_Registration" class="n" transform="translate(625,1649.4)"><ellipse rx="76.1" ry="4.5"/><text y="2.2" textLength="130.2">Students_Registration</text></g>
<g id="n-General_Administration_Affairs" class="n" transform="translate(625,1665.8)"><ellipse rx="101" ry="4.5"/><text class="s" x="-89.4" y="2.2" textLength="156">General_Administration_Aff</text></g>
<g id="n-Centeral_Library" class="n" transform="translate(625,1682.3)"><ellipse rx="60.6" ry="4.5"/><text y="2.2" textLength="99.2">Centeral_Library</text></g>
<g id="n-Graduate_Affairs" class="n" transform="translate(625,1698.7)"><ellipse rx="60.6" ry="4.5"/><text y="2.2" textLength="99.2">Graduate_Affairs</text></g>
<g id="n-Research" class="n" transform="translate(625,1715.1)"><ellipse rx="35.8" ry="4.5"/><text y="2.2" textLength="49.6">Research</text></g>
<g id="n-Environment_Development" class="n" transform="translate(625,1731.6)"><ellipse rx="87" ry="4.5"/><text class="s" x="-75" y="2.2" textLength="142">Environment_Developmen</text></g>
<g id="n-Post_Graduate_Studies" class="n" transform="translate(625,1748)"><ellipse rx="76.1" ry="4.5"/><text y="2.2" textLength="130.2">Post_Graduate_Studies</text></g>
</g>
</svg>
